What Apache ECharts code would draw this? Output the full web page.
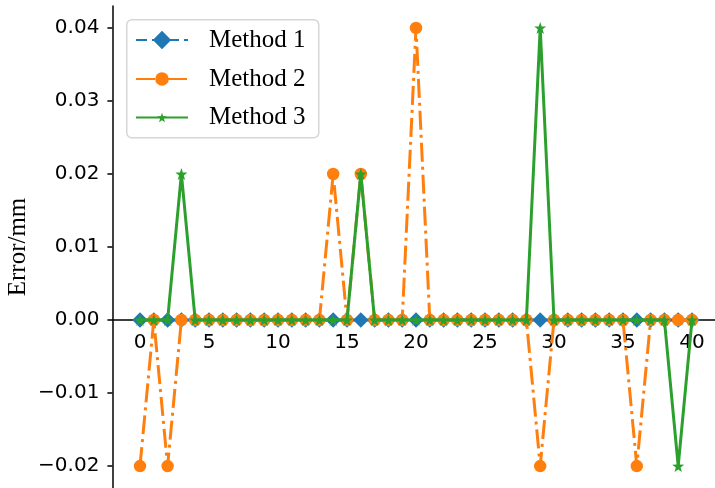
<!DOCTYPE html>
<html>
<head>
<meta charset="utf-8">
<script src="https://cdn.jsdelivr.net/npm/echarts@6/dist/echarts.min.js"></script>
<style>
html,body{margin:0;padding:0;background:#fff;}
#chart{width:715px;height:488px;}
</style>
</head>
<body>
<div id="chart"></div>
<script>
// ---- data ----
const xValues = [0,1,2,3,4,5,6,7,8,9,10,11,12,13,14,15,16,17,18,19,20,21,22,23,24,25,26,27,28,29,30,31,32,33,34,35,36,37,38,39,40];
const method1 = [0,0,0,0,0,0,0,0,0,0,0,0,0,0,0,0,0,0,0,0,0,0,0,0,0,0,0,0,0,0,0,0,0,0,0,0,0,0,0,0,0];
const method2 = [-0.02,0,-0.02,0,0,0,0,0,0,0,0,0,0,0,0.02,0,0.02,0,0,0,0.04,0,0,0,0,0,0,0,0,-0.02,0,0,0,0,0,0,-0.02,0,0,0,0];
const method3 = [0,0,0,0.02,0,0,0,0,0,0,0,0,0,0,0,0,0.02,0,0,0,0,0,0,0,0,0,0,0,0,0.04,0,0,0,0,0,0,0,0,0,-0.02,0];
const seriesNames = ['Method 1','Method 2','Method 3'];
const xTicks = [0,5,10,15,20,25,30,35,40];
const yTicks = [-0.02,-0.01,0,0.01,0.02,0.03,0.04];
const yLabel = 'Error/mm';

const colors = ['#1f77b4','#ff7f0e','#2ca02c'];
const starPath = 'path://M0,-10L2.35,-3.24L9.51,-3.09L3.8,1.24L5.88,8.09L0,4L-5.88,8.09L-3.8,1.24L-9.51,-3.09L-2.35,-3.24Z';

function pairs(arr){ return xValues.map((x,i)=>[x,arr[i]]); }

const yMin = -0.023, yMax = 0.043;
const gridH = 482;
// move the x axis (line + labels) up to the y = 0 level, like a spine placed at zero
const xAxisOffset = -gridH * (0 - yMin) / (yMax - yMin);

const chart = echarts.init(document.getElementById('chart'), null, {renderer:'canvas'});
const legendText = {fontFamily:'"Liberation Serif","Times New Roman",serif', fontSize:25, color:'#000', padding:[0,0,0,16]};
const option = {
  animation:false,
  backgroundColor:'#fff',
  grid:{left:112.4, top:6, width:607.2, height:gridH, outerBoundsMode:'none', containLabel:false},
  xAxis:{
    type:'value', min:-2, max:42,
    position:'bottom', offset:xAxisOffset,
    splitLine:{show:false},
    axisLine:{onZero:false, lineStyle:{color:'#000', width:1.5}},
    axisTick:{show:true, length:5, lineStyle:{color:'#000', width:1.5}, customValues:xTicks},
    axisLabel:{customValues:xTicks, fontFamily:'"DejaVu Sans"', fontSize:20, color:'#000', margin:13}
  },
  yAxis:{
    type:'value', min:yMin, max:yMax,
    name:yLabel, nameLocation:'middle', nameGap:81, nameMoveOverlap:false,
    nameTextStyle:{fontFamily:'"Liberation Serif","Times New Roman",serif', fontSize:25, color:'#000'},
    splitLine:{show:false},
    axisLine:{onZero:false, lineStyle:{color:'#000', width:1.5}},
    axisTick:{show:true, length:5, lineStyle:{color:'#000', width:1.5}, customValues:yTicks},
    axisLabel:{customValues:yTicks, fontFamily:'"DejaVu Sans"', fontSize:20, color:'#000', margin:13,
      formatter:function(v){ return v.toFixed(2).replace('-', '\u2212'); }}
  },
  graphic:[{
    type:'rect', left:126, top:19, z:10,
    shape:{width:192, height:118, r:5},
    style:{fill:'rgba(255,255,255,0.85)', stroke:'#d6d6d6', lineWidth:1.5}
  }],
  legend:[
    {data:[seriesNames[0]], left:135, top:39-11.5, itemWidth:52, itemHeight:23, padding:0, z:11, textStyle:legendText},
    {data:[seriesNames[1]], left:135, top:75-8.5, itemWidth:52, itemHeight:17, padding:0, z:11, textStyle:legendText},
    {data:[seriesNames[2]], left:135, top:111-6, itemWidth:52, itemHeight:12, padding:0, z:11, textStyle:legendText}
  ],
  series:[
    {name:seriesNames[0], type:'line', data:pairs(method1), z:2,
     symbol:'diamond', symbolSize:15.5, showAllSymbol:true,
     lineStyle:{color:colors[0], width:3, type:[11,5]},
     itemStyle:{color:colors[0]}},
    {name:seriesNames[1], type:'line', data:pairs(method2), z:3,
     symbol:'circle', symbolSize:12.5, showAllSymbol:true,
     lineStyle:{color:colors[1], width:3, type:[19,5,3,5]},
     itemStyle:{color:colors[1]}},
    {name:seriesNames[2], type:'line', data:pairs(method3), z:4,
     symbol:starPath, symbolSize:12, showAllSymbol:true,
     lineStyle:{color:colors[2], width:3},
     itemStyle:{color:colors[2]}}
  ]
};
chart.setOption(option);
</script>
</body>
</html>
